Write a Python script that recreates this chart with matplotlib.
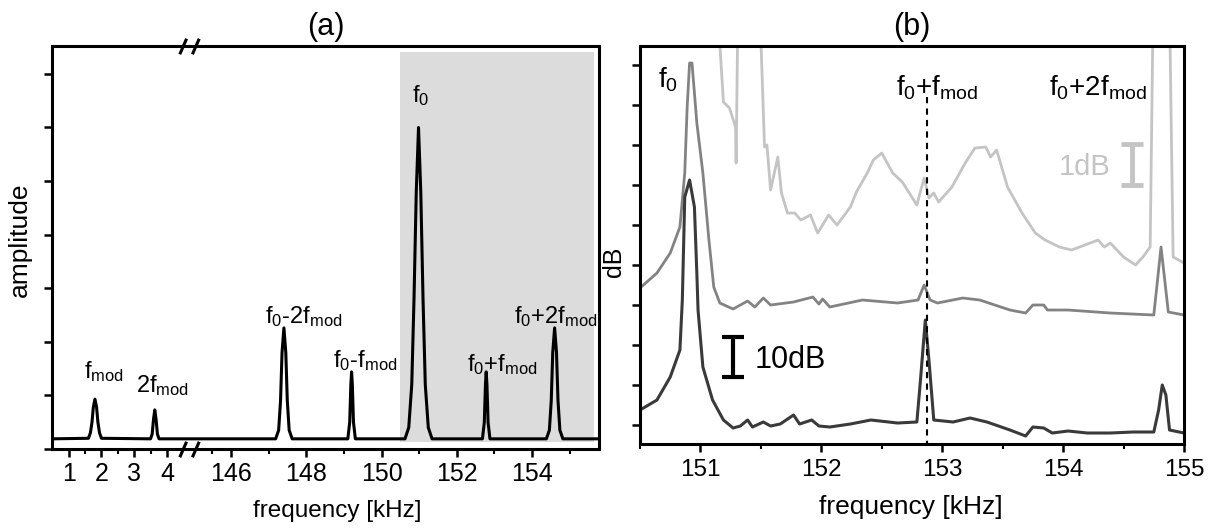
import numpy as np
import matplotlib
matplotlib.use("Agg")
import matplotlib.pyplot as plt
from matplotlib.patches import Rectangle
from matplotlib.path import Path
import matplotlib.transforms as mtransforms

plt.rcParams['font.family'] = ['Liberation Sans', 'DejaVu Sans']
plt.rcParams['mathtext.fontset'] = 'custom'
plt.rcParams['mathtext.rm'] = 'Liberation Sans'
plt.rcParams['mathtext.it'] = 'Liberation Sans'

### DATA (a) : sketch spectrum, broken frequency axis
freq_a = [0.5,
          1.60, 1.66, 1.71, 1.75, 1.80, 1.85, 1.89, 1.94, 2.00,
          3.50, 3.55, 3.59, 3.63, 3.67, 3.71, 3.76,
          147.18, 147.26, 147.31, 147.35, 147.40, 147.45, 147.49, 147.54, 147.62,
          149.10, 149.15, 149.18, 149.20, 149.22, 149.25, 149.30,
          150.62, 150.72, 150.80, 150.86, 150.92, 150.98, 151.04, 151.10, 151.16, 151.24, 151.34,
          152.68, 152.73, 152.76, 152.78, 152.80, 152.83, 152.88,
          154.38, 154.46, 154.51, 154.55, 154.60, 154.65, 154.69, 154.74, 154.82,
          155.78]
amp_a = [0.19,
         0.20, 0.30, 0.50, 0.78, 0.93, 0.78, 0.50, 0.30, 0.20,
         0.19, 0.28, 0.55, 0.73, 0.55, 0.28, 0.19,
         0.19, 0.35, 0.90, 1.80, 2.26, 1.80, 0.90, 0.35, 0.19,
         0.19, 0.50, 1.20, 1.44, 1.20, 0.50, 0.19,
         0.19, 0.40, 1.20, 2.80, 4.80, 6.00, 4.80, 2.80, 1.20, 0.40, 0.19,
         0.19, 0.50, 1.20, 1.44, 1.20, 0.50, 0.19,
         0.19, 0.35, 0.90, 1.80, 2.26, 1.80, 0.90, 0.35, 0.19,
         0.19]
ticks_a = [1, 2, 3, 4, 146, 148, 150, 152, 154]
minor_a = [1.5, 2.5, 3.5, 145.5, 147, 149, 151, 153, 155]
labels_a = [(1.46, 1.32, r'f$_{\rm mod}$'),
            (3.05, 1.06, r'2f$_{\rm mod}$'),
            (146.89, 2.35, r'f$_0$-2f$_{\rm mod}$'),
            (148.70, 1.53, r'f$_0$-f$_{\rm mod}$'),
            (150.81, 6.47, r'f$_0$'),
            (152.26, 1.45, r'f$_0$+f$_{\rm mod}$'),
            (153.51, 2.35, r'f$_0$+2f$_{\rm mod}$')]

### DATA (b) : measured spectra in dB
f_dark = [150.50, 150.64, 150.75, 150.83, 150.85, 150.87, 150.91, 150.95, 150.97, 150.98,
          151.02, 151.10, 151.19, 151.27, 151.33, 151.39, 151.43, 151.52, 151.58, 151.66,
          151.77, 151.82, 151.92, 151.98, 152.07, 152.24, 152.41, 152.63, 152.79, 152.82,
          152.86, 152.89, 152.93, 153.09, 153.23, 153.37, 153.56, 153.69, 153.75, 153.84,
          153.91, 154.04, 154.20, 154.39, 154.58, 154.75, 154.79, 154.82, 154.85, 154.88, 155.00]
db_dark = [3.75, 6.25, 12.0, 18.75, 31.25, 57.0, 61.25, 54.5, 38.0, 28.75,
           14.5, 6.25, 1.25, -0.75, -0.25, 1.25, -0.5, 0.75, -0.25, 0.25,
           2.5, 0.25, 1.25, -0.25, -0.5, 0.25, 1.25, 0.5, 0.75, 11.25,
           26.25, 16.25, 1.25, 0.75, 1.75, 0.75, -1.25, -2.75, -0.5, -0.75,
           -2.0, -1.5, -2.0, -2.0, -1.75, -1.75, 3.75, 10.0, 7.5, -1.25, -2.0]

f_mid = [150.50, 150.64, 150.75, 150.83, 150.87, 150.89, 150.91, 150.93, 150.97, 151.02,
         151.07, 151.11, 151.16, 151.27, 151.39, 151.45, 151.52, 151.58, 151.77, 151.93,
         151.98, 152.01, 152.07, 152.34, 152.63, 152.80, 152.85, 152.90, 152.96, 153.17,
         153.31, 153.56, 153.69, 153.75, 153.84, 153.87, 154.04, 154.39, 154.75, 154.81,
         154.87, 155.00]
db_mid = [34.25, 38.0, 43.0, 49.5, 63.0, 79.5, 90.5, 90.5, 75.5, 63.0,
          46.25, 34.5, 30.5, 29.0, 31.0, 29.5, 31.75, 30.0, 30.75, 32.0,
          30.25, 31.5, 29.5, 31.25, 30.5, 31.25, 35.0, 31.25, 30.5, 31.75,
          31.25, 28.75, 28.0, 30.0, 30.0, 28.75, 28.75, 28.0, 27.5, 44.5,
          28.25, 27.5]

f_light = [151.14, 151.19, 151.24, 151.29, 151.295, 151.31, 151.49, 151.53, 151.55, 151.58,
           151.64, 151.67, 151.72, 151.78, 151.83, 151.91, 151.97, 152.06, 152.13, 152.24,
           152.29, 152.38, 152.43, 152.50, 152.59, 152.67, 152.79, 152.85, 152.89, 152.93,
           152.97, 153.08, 153.19, 153.27, 153.36, 153.40, 153.45, 153.54, 153.66, 153.77,
           153.85, 153.97, 154.07, 154.18, 154.29, 154.34, 154.39, 154.50, 154.60, 154.66,
           154.72, 154.745, 154.88, 154.91, 155.00]
db_light = [105, 80.75, 79.25, 74.5, 65.5, 105, 105, 69.5, 70.0, 58.75,
            67.0, 58.0, 53.0, 53.0, 51.25, 52.5, 48.0, 52.5, 50.0, 54.5,
            58.25, 63.0, 66.25, 68.0, 63.0, 60.75, 55.0, 61.75, 56.75, 58.0,
            55.75, 59.5, 65.5, 69.25, 69.5, 67.0, 68.75, 59.5, 53.0, 48.0,
            46.25, 44.5, 43.75, 45.0, 46.25, 44.5, 45.5, 42.0, 40.0, 42.0,
            44.5, 105, 105, 42.0, 40.5]
f_line = 152.877
ticks_b = [151, 152, 153, 154, 155]
minor_b = [150.5, 151.5, 152.5, 153.5, 154.5]

### broken axis for (a)
BRK_LO, BRK_HI = 4.67, 144.87
S_LO, S_HI = 32.7, 37.6
U0 = (BRK_LO - 0.5) * S_LO

def fwd(f):
    f = np.asarray(f, dtype=float)
    return np.where(f < 75, (np.minimum(f, BRK_LO) - 0.5) * S_LO,
                    U0 + (np.maximum(f, BRK_HI) - BRK_HI) * S_HI)

def inv(u):
    u = np.asarray(u, dtype=float)
    return np.where(u < U0, u / S_LO + 0.5, (u - U0) / S_HI + BRK_HI)

fig = plt.figure(figsize=(12.14, 5.32), dpi=100)
axa = fig.add_axes([0.0432, 0.156, 0.4502, 0.7575])
axb = fig.add_axes([0.5272, 0.1654, 0.4481, 0.7481])

# ---- panel (a)
axa.set_xscale('function', functions=(fwd, inv))
axa.add_patch(Rectangle((150.48, 0.13), 155.66 - 150.48, 7.28,
                        facecolor='#dcdcdc', edgecolor='none', zorder=0))
axa.plot(freq_a, amp_a, color='black', lw=2.2, solid_joinstyle='round')
axa.set_xlim(0.5, 155.78)
axa.set_ylim(0, 7.52)
axa.set_xticks(ticks_a)
axa.set_xticklabels([str(t) for t in ticks_a])
axa.set_xticks(minor_a, minor=True)
axa.set_yticks(range(8))
axa.set_yticklabels([])
for x, y, s in labels_a:
    axa.text(x, y, s, fontsize=17, ha='left', va='baseline')
axa.set_title('(a)', fontsize=22, pad=8)
axa.set_xlabel('frequency [kHz]', fontsize=17.5)
axa.xaxis.set_label_coords(0.522, -0.154)
axa.xaxis.label.set_va('center')
axa.set_ylabel('amplitude', fontsize=19)
axa.yaxis.set_label_coords(-0.059, 0.52)
axa.yaxis.label.set_va('center')

# "//" break marks on top and bottom spines
brk = Path([(-1, -0.8), (-0.3, 0.8), (0.3, -0.8), (1, 0.8)],
           [Path.MOVETO, Path.LINETO, Path.MOVETO, Path.LINETO])
trans = mtransforms.blended_transform_factory(axa.transData, axa.transAxes)
axa.plot([BRK_LO, BRK_LO], [0, 1], transform=trans, ls='none', marker=brk,
         ms=14, mfc='none', mec='black', mew=2.2, clip_on=False, zorder=5)

# ---- panel (b)
axb.plot(f_light, db_light, color='#c4c4c4', lw=2.0)
axb.plot(f_mid, db_mid, color='#838383', lw=2.0)
axb.plot(f_dark, db_dark, color='#3a3a3a', lw=2.2)
axb.plot([f_line, f_line], [82, -5], color='black', lw=1.5, ls=(0, (3, 2.5)))
axb.set_xlim(150.5, 155.0)
axb.set_ylim(-4.75, 94.75)
axb.set_xticks(ticks_b)
axb.set_xticks(minor_b, minor=True)
axb.set_yticks(range(0, 91, 10))
axb.set_yticklabels([])
axb.text(150.65, 84.5, r'f$_0$', fontsize=20, va='baseline')
axb.text(152.62, 82.5, r'f$_0$+f$_{\rm mod}$', fontsize=20, va='baseline')
axb.text(153.88, 82.5, r'f$_0$+2f$_{\rm mod}$', fontsize=20, va='baseline')
axb.text(153.96, 62.5, '1dB', fontsize=21, color='#c4c4c4', va='baseline')
axb.errorbar([154.57], [65.1], yerr=[[5.1], [5.1]], color='#c4c4c4',
             elinewidth=3.5, capsize=8, capthick=3.5)
axb.text(151.45, 14.25, '10dB', fontsize=22, va='baseline')
axb.errorbar([151.27], [17.0], yerr=[[5.0], [5.0]], color='black',
             elinewidth=3, capsize=8, capthick=3)
axb.set_title('(b)', fontsize=22, pad=8)
axb.set_xlabel('frequency [kHz]', fontsize=19)
axb.xaxis.set_label_coords(0.498, -0.158)
axb.xaxis.label.set_va('center')
axb.set_ylabel('dB', fontsize=18)
axb.yaxis.set_label_coords(-0.048, 0.457)
axb.yaxis.label.set_va('center')

for ax in (axa, axb):
    for sp in ax.spines.values():
        sp.set_linewidth(2.2)
    ax.tick_params(which='major', direction='out', length=6, width=1.8, pad=3)
    ax.tick_params(which='minor', direction='out', length=3.5, width=1.5)
axa.tick_params(axis='x', labelsize=18)
axb.tick_params(axis='x', labelsize=17.5, pad=5)

plt.savefig("out.png", dpi=100)
